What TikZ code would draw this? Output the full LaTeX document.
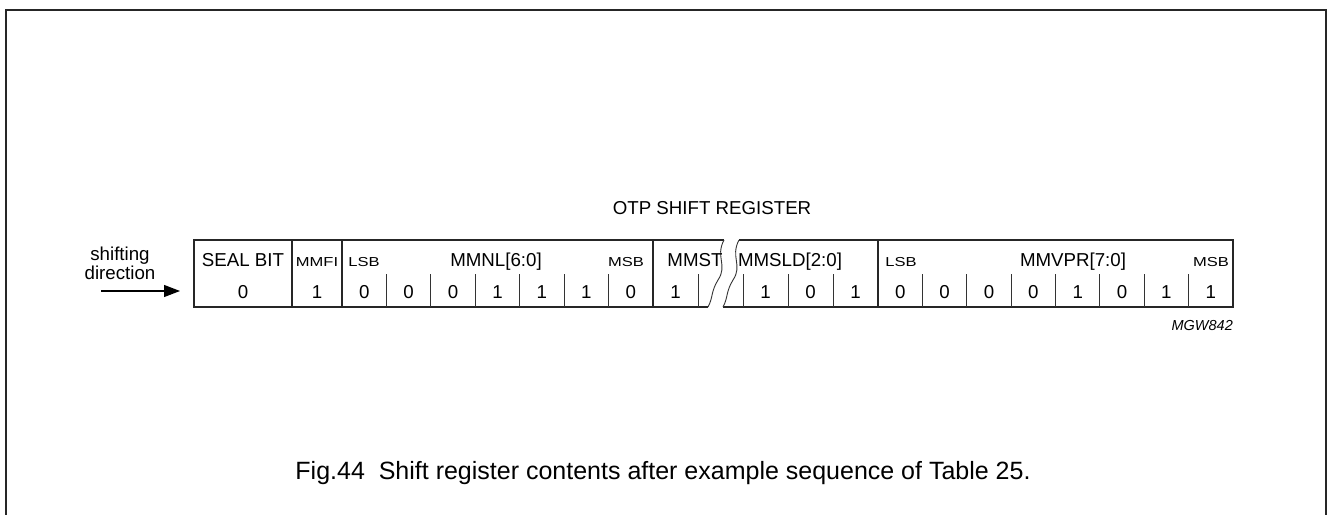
\documentclass[tikz,border=0pt]{standalone}
\usepackage{fontspec}
\setmainfont{Liberation Sans}
\newfontfamily\widefont[FakeStretch=1.27]{Liberation Sans}
\usetikzlibrary{arrows.meta}
\tikzset{
  big/.style={font=\fontsize{18.7}{20}\selectfont, anchor=base, inner sep=0pt},
  sml/.style={font=\widefont\fontsize{13}{14}\selectfont, anchor=base, inner sep=0pt},
  thick line/.style={line width=1.8pt, draw=black!85},
  thin line/.style={line width=0.9pt, draw=black!80},
  frame line/.style={line width=2pt, draw=black!85},
}
\begin{document}
\begin{tikzpicture}[x=1pt,y=-1pt]
\useasboundingbox (0,0) rectangle (1327,514);
% frame
\draw[frame line] (5.5,516) -- (5.5,10) -- (1326,10) -- (1326,516);
% title
\node[big] (title) at (712,214) {OTP SHIFT REGISTER};
% shifting direction
\node[big] (shift1) at (120,260) {shifting};
\node[big] (shift2) at (120,279) {direction};
\coordinate (arrS) at (101,291);
\coordinate (arrE) at (180,291);
\draw[line width=1.2pt, -{Triangle[length=16pt,width=12pt]}] (arrS) -- (arrE);
% register outline, left part
\draw[thick line] (724,240) -- (194,240) -- (194,307) -- (708,307);
% register outline, right part
\draw[thick line] (739,240) -- (1233,240) -- (1233,307) -- (723,307);
% break lines
\draw[thin line] (724,240) .. controls (715,257) and (728,265) .. (718,280) .. controls (711,291) and (713,298) .. (708,307);
\draw[thin line] (739,240) .. controls (730,257) and (743,265) .. (733,280) .. controls (726,291) and (728,298) .. (723,307);
% section dividers
\foreach \x in {292,342,653,878} \draw[thick line] (\x,240) -- (\x,307);
% bit dividers
\foreach \x in {386.4,430.9,475.3,519.7,564.1,608.6,698,743,788,833,922.4,966.8,1011.1,1055.5,1099.9,1144.3,1188.6}
  \draw[thin line] (\x,274) -- (\x,307);
% field labels
\node[big] (seal) at (243,266) {SEAL BIT};
\node[sml] (mmfi) at (317,266) {MMFI};
\node[sml] (lsb1) at (364,266) {LSB};
\node[big] (mmnl) at (496,266) {MMNL[6:0]};
\node[sml] (msb1) at (626,266) {MSB};
\node[big] (mmst) at (695,266) {MMST};
\node[big] (mmsld) at (790,266) {MMSLD[2:0]};
\node[sml] (lsb2) at (901,266) {LSB};
\node[big] (mmvpr) at (1073,266) {MMVPR[7:0]};
\node[sml] (msb2) at (1211,266) {MSB};
% bit values
\foreach \x/\v [count=\i] in {243/0,317/1,364.2/0,408.6/0,453.1/0,497.5/1,541.9/1,586.4/1,630.8/0,675.5/1,765.5/1,810.5/0,855.5/1,900.2/0,944.6/0,989/0,1033.3/0,1077.7/1,1122.1/0,1166.4/1,1210.8/1}
  \node[big] (bit\i) at (\x,298) {\v};
% code
\node[font=\itshape\fontsize{14.5}{16}\selectfont, anchor=base east, inner sep=0pt] (code) at (1233,330) {MGW842};
% caption
\node[font=\fontsize{25}{28}\selectfont, anchor=base, inner sep=0pt] (caption) at (663,479) {Fig.44\hspace{0.556em}Shift register contents after example sequence of Table 25.};
\end{tikzpicture}
\end{document}
